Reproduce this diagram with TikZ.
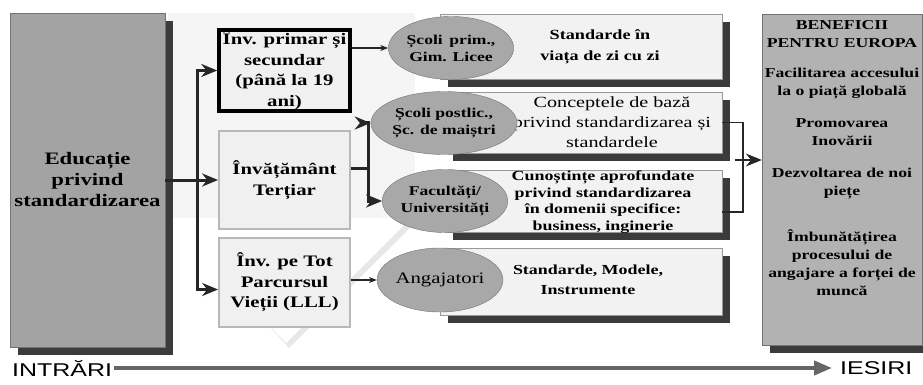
\documentclass[tikz,border=0pt]{standalone}
\usepackage{fontspec}
\setmainfont[FakeStretch=1.3]{Liberation Serif}
\newfontfamily\flowfont[FakeStretch=1.35]{Liberation Sans}
\usetikzlibrary{shapes.geometric,shadows,arrows.meta}

\tikzset{
  darkshadow/.style={drop shadow={shadow xshift=8pt,shadow yshift=-8pt,fill=black!85,opacity=.9}},
  mainbox/.style={draw=black!55, fill=black!36, darkshadow},
  levelbox/.style={draw=black!28, line width=1.8pt, fill=black!6,
    minimum width=131pt, font=\bfseries\fontsize{16}{20.5}\selectfont},
  typebox/.style={ellipse, draw=black!55, fill=black!34, inner sep=0pt},
  goalbox/.style={draw=black!40, fill=black!5, darkshadow},
  goaltext/.style={font=\bfseries\fontsize{13.8}{16.5}\selectfont},
  fork/.style={line width=3pt, draw=black!85},
  link/.style={line width=1.6pt, draw=black!85},
  bigtip/.style={-{Stealth[length=16pt,width=13pt]}},
  smalltip/.style={-{Stealth[length=8pt,width=6pt]}},
}

\begin{document}
\begin{tikzpicture}[x=1pt,y=-1pt, every node/.append style={align=center, inner sep=0pt}]
  \useasboundingbox (0,0) rectangle (923,385);

  % background panel and the white wedge behind the middle column
  \fill[black!4] (168,13) rectangle (415,218);
  \fill[black!9] (174,221) -- (417,221) -- (289,348) -- cycle;
  \fill[white] (168,218) -- (411,218) -- (286,343) -- cycle;

  % inputs
  \node[mainbox, minimum width=155pt, minimum height=334pt,
    font=\bfseries\fontsize{17.5}{21}\selectfont] (educ) at (87.5,180)
    {Educație\\privind\\standardizarea};

  \node[levelbox, draw=black, line width=3.5pt, minimum height=81pt] (prim) at (284.5,70.5)
    {Înv. primar și\\secundar\\(până la 19\\ani)};
  \node[levelbox, minimum height=98pt] (tert) at (284.5,180)
    {Învățământ\\Terțiar};
  \node[levelbox, minimum height=89pt] (lll) at (284.5,282.5)
    {Înv. pe Tot\\Parcursul\\Vieții (LLL)};

  % contents
  \node[goalbox, minimum width=282pt, minimum height=65pt] (daily) at (581,46.5) {};
  \node[goalbox, minimum width=277pt, minimum height=61pt] (conc) at (583.5,122.5) {};
  \node[goalbox, minimum width=277pt, minimum height=62pt] (deep) at (583.5,201) {};
  \node[goalbox, minimum width=282pt, minimum height=67pt] (tools) at (581,281.5) {};

  \node[goaltext, font=\bfseries\fontsize{14}{21}\selectfont] (dailytxt) at (600,47)
    {Standarde în\\viața de zi cu zi};
  \node[font=\fontsize{15.5}{20}\selectfont] (conctxt) at (612,122)
    {Conceptele de bază\\privind standardizarea și\\standardele};
  \node[goaltext] (deeptxt) at (603,202)
    {Cunoștințe aprofundate\\privind standardizarea\\în domenii specifice:\\business, inginerie};
  \node[goaltext, font=\bfseries\fontsize{13.8}{20.5}\selectfont] (toolstxt) at (588,280)
    {Standarde, Modele,\\Instrumente};

  % schools
  \node[typebox, minimum width=125pt, minimum height=63pt,
    font=\bfseries\fontsize{13.5}{17}\selectfont] (primgim) at (451,48)
    {Școli\, prim.,\\Gim. Licee};
  \node[typebox, minimum width=110pt, minimum height=63pt,
    font=\bfseries\fontsize{13.5}{17}\selectfont] (postl) at (444,123)
    {Școli postlic.,\\Șc. de maiștri};
  \node[typebox, minimum width=117pt, minimum height=63pt,
    font=\bfseries\fontsize{13.5}{17}\selectfont] (univ) at (445,201)
    {Facultăți/\\Universități};
  \node[typebox, minimum width=105pt, minimum height=64pt,
    font=\fontsize{16}{19}\selectfont] (empl) at (440,280)
    {Angajatori};

  % outputs
  \node[mainbox, fill=black!30, minimum width=160pt, minimum height=331pt] (benef) at (842,179.5) {};
  \node[font=\bfseries\fontsize{13.6}{18}\selectfont, anchor=north] (beneftxt) at (842,20)
    {BENEFICII\\PENTRU EUROPA\\[12pt]
     Facilitarea accesului\\la o piață globală\\[14pt]
     Promovarea\\Inovării\\[14pt]
     Dezvoltarea de noi\\piețe\\[28pt]
     Îmbunătățirea\\procesului de\\angajare a forței de\\muncă};

  % arrows from the inputs
  \coordinate (split) at (197,180);
  \draw[fork, bigtip] (educ.east) -- (tert.west);
  \draw[fork, bigtip] (split) |- (prim.west);
  \draw[fork, bigtip] (split) |- ([yshift=-7pt]lll.west);

  \draw[link, smalltip] (prim.east |- primgim.west) -- (primgim.west);
  \draw[link, smalltip] (lll.east |- empl.west) -- (empl.west);

  \coordinate (tsplit) at (368,168);
  \draw[fork] (tert.east |- tsplit) -- (tsplit);
  \draw[fork, bigtip] (tsplit) |- (postl.west);
  \draw[fork, bigtip] (tsplit) |- (univ.west);

  % merge into the benefits
  \coordinate (bus) at (743,160);
  \draw[link, line width=1.3pt] (conc.east) -| (bus) |- ([yshift=-11pt]deep.east);
  \draw[link, line width=1.3pt, bigtip] ([xshift=-8pt]bus) -- (benef.west |- bus);

  % time axis
  \node[font=\flowfont\fontsize{18.5}{20}\selectfont, anchor=west] (intrari) at (12,368) {INTRĂRI};
  \node[font=\flowfont\fontsize{18.5}{20}\selectfont, anchor=west] (iesiri) at (840,368) {IESIRI};
  \draw[line width=4pt, black!60, -{Triangle[length=18pt,width=14pt]}]
    ([xshift=2pt]intrari.east) -- ([xshift=-8pt]iesiri.west);

\end{tikzpicture}
\end{document}
